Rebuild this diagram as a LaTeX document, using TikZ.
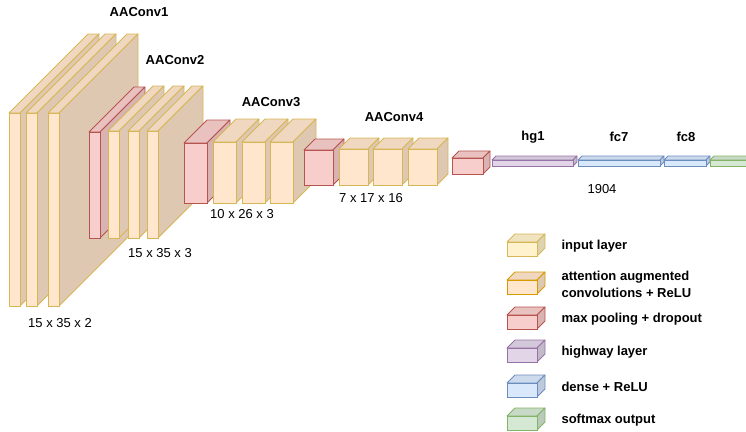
\documentclass[tikz,border=0pt]{standalone}
\usepackage{fontspec}
\setmainfont{Liberation Sans}
\usetikzlibrary{positioning}

\definecolor{inputfill}{HTML}{FFF2CC}
\definecolor{inputline}{HTML}{D6B656}
\definecolor{convfill}{HTML}{FFE6CC}
\definecolor{convline}{HTML}{D79B00}
\definecolor{slabline}{HTML}{D6B656}
\definecolor{poolfill}{HTML}{F8CECC}
\definecolor{poolline}{HTML}{B85450}
\definecolor{hwfill}{HTML}{E1D5E7}
\definecolor{hwline}{HTML}{9673A6}
\definecolor{densefill}{HTML}{DAE8FC}
\definecolor{denseline}{HTML}{6C8EBF}
\definecolor{outfill}{HTML}{D5E8D4}
\definecolor{outline}{HTML}{82B366}

% box: x, y (front top left), width, height, depth, fill, line
\newcommand{\layerbox}[7]{%
  \draw[draw=#7, fill=#6!94!black, line width=0.8pt, line join=round]
    (#1,#2) -- ++(#5,-#5) -- ++(#3,0) -- ++(-#5,#5) -- cycle;
  \draw[draw=#7, fill=#6!87!black, line width=0.8pt, line join=round]
    ({#1+#3},#2) -- ++(#5,-#5) -- ++(0,#4) -- ++(-#5,#5) -- cycle;
  \draw[draw=#7, fill=#6, line width=0.8pt] (#1,#2) rectangle ++(#3,#4);
}

\begin{document}
\begin{tikzpicture}[x=1pt,y=-1pt,
    lbl/.style={font=\fontsize{13}{15}\selectfont\bfseries},
    dim/.style={font=\fontsize{13}{15}\selectfont},
    legtxt/.style={font=\fontsize{13}{17}\selectfont\bfseries, anchor=west, align=left}]
    \useasboundingbox (0,0) rectangle (746,431);
    \clip (0,0) rectangle (746,431);

    % AAConv1
    \foreach \x in {9,26,48} {\layerbox{\x}{113}{11}{193}{79}{convfill}{slabline}}
    % AAConv2
    \layerbox{89}{132}{11}{106}{45}{poolfill}{poolline}
    \foreach \x in {108,128,147} {\layerbox{\x}{131}{11}{107}{45}{convfill}{slabline}}
    % AAConv3
    \layerbox{184}{143}{23}{60}{23}{poolfill}{poolline}
    \foreach \x in {213,242,270} {\layerbox{\x}{142}{23}{61}{23}{convfill}{slabline}}
    % AAConv4
    \layerbox{304}{150}{29}{35}{11}{poolfill}{poolline}
    \foreach \x in {339,373,408} {\layerbox{\x}{149}{29}{36}{11}{convfill}{slabline}}
    % flat layers
    \layerbox{452}{158}{31}{16}{7}{poolfill}{poolline}
    \layerbox{492}{160}{81}{6}{4}{hwfill}{hwline}
    \layerbox{578}{160}{82}{6}{4}{densefill}{denseline}
    \layerbox{664}{160}{42}{6}{4}{densefill}{denseline}
    \layerbox{710}{160}{60}{6}{4}{outfill}{outline}

    \node[lbl] (conv1) at (139,12) {AAConv1};
    \node[lbl] (conv2) at (175,60) {AAConv2};
    \node[lbl] (conv3) at (271,102) {AAConv3};
    \node[lbl] (conv4) at (394,117) {AAConv4};
    \node[lbl] (hg1) at (533,137) {hg1};
    \node[lbl] (fc7) at (619,137) {fc7};
    \node[lbl] (fc8) at (686,137) {fc8};

    \node[dim] (dim1) at (60,323) {15 x 35 x 2};
    \node[dim] (dim2) at (160,253) {15 x 35 x 3};
    \node[dim] (dim3) at (242,214) {10 x 26 x 3};
    \node[dim] (dim4) at (371,198) {7 x 17 x 16};
    \node[dim] (units) at (602,189) {1904};

    % legend
    \foreach \y/\fc/\lc/\txt in {234/inputfill/inputline/{input layer},
        272/convfill/convline/{attention augmented\\convolutions + ReLU},
        307/poolfill/poolline/{max pooling + dropout},
        340/hwfill/hwline/{highway layer},
        375/densefill/denseline/{dense + ReLU},
        408/outfill/outline/{softmax output}} {
        \layerbox{507}{\y+8}{30}{14}{8}{\fc}{\lc}
        \node[legtxt] (leg-\y) at (558,\y+12) {\txt};
    }
\end{tikzpicture}
\end{document}
